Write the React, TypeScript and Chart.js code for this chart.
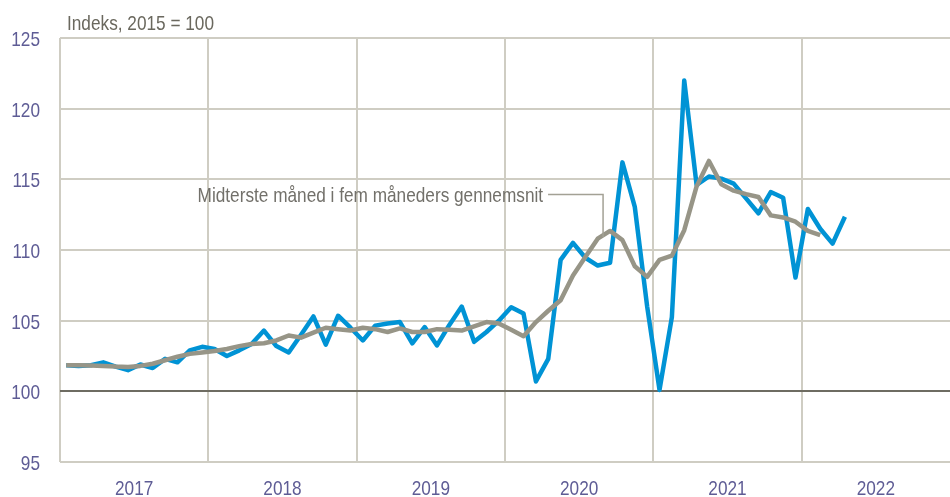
import React, { useEffect, useRef } from "react";
import { Chart, registerables } from "chart.js";

Chart.register(...registerables);

const years = ["2017", "2018", "2019", "2020", "2021", "2022"];
const yTicks = [95, 100, 105, 110, 115, 120, 125];

// Monthly index values, Jan 2017 onwards
const monthlyIndex = [
  101.85, 101.8, 101.85, 102.05, 101.75, 101.5, 101.9, 101.65, 102.3, 102.05, 102.9, 103.15,
  103.0, 102.5, 102.9, 103.35, 104.3, 103.2, 102.75, 104.0, 105.3, 103.3, 105.35, 104.5,
  103.6, 104.65, 104.8, 104.9, 103.4, 104.55, 103.25, 104.7, 106.0, 103.5, 104.2, 105.0,
  105.95, 105.5, 100.7, 102.3, 109.3, 110.5, 109.45, 108.9, 109.1, 116.2, 113.05, 106.0,
  100.1, 105.25, 122.0, 114.6, 115.2, 115.05, 114.7, 113.65, 112.6, 114.1, 113.7, 108.05,
  112.9, 111.5, 110.45, 112.35,
];

// Middle month of five-month average
const fiveMonthAvg = [
  101.85, 101.85, 101.82, 101.8, 101.75, 101.72, 101.8, 101.95, 102.2, 102.45, 102.65, 102.75,
  102.85, 103.0, 103.2, 103.35, 103.4, 103.6, 103.95, 103.8, 104.15, 104.5, 104.4, 104.3,
  104.5, 104.4, 104.2, 104.45, 104.2, 104.2, 104.4, 104.35, 104.3, 104.6, 104.9, 104.8,
  104.35, 103.9, 104.9, 105.7, 106.45, 108.2, 109.5, 110.8, 111.35, 110.7, 108.85, 108.1,
  109.3, 109.6, 111.4, 114.5, 116.3, 114.65, 114.2, 113.95, 113.75, 112.45, 112.3, 112.0,
  111.35, 111.05,
];

const titleText = "Indeks, 2015 = 100";
const annotationText = "Midterste måned i fem måneders gennemsnit";
const annotationIndex = 44;

const FONT = "'Liberation Sans', Arial, sans-serif";
const NARROW = 0.82;
const FONT_SIZE = 21;
const TICK_COLOR = "#5e5c95";
const GRID = "#cfcdc3";
const ZERO = "#6e6c62";
const BLUE = "#0093d5";
const GREY = "#979587";

function narrowText(
  ctx: CanvasRenderingContext2D,
  text: string,
  x: number,
  y: number,
  align: CanvasTextAlign,
  color: string
) {
  ctx.save();
  ctx.font = `${FONT_SIZE}px ${FONT}`;
  ctx.fillStyle = color;
  ctx.textAlign = align;
  ctx.textBaseline = "alphabetic";
  ctx.translate(x, y);
  ctx.scale(NARROW, 1);
  ctx.fillText(text, 0, 0);
  ctx.restore();
}

export default function App() {
  const ref = useRef<HTMLCanvasElement | null>(null);

  useEffect(() => {
    if (!ref.current) return;
    const toPts = (arr: number[]) => arr.map((v, i) => ({ x: i + 0.5, y: v }));

    const overlay = {
      id: "overlay",
      afterDraw(chart: any) {
        const ctx = chart.ctx as CanvasRenderingContext2D;
        const area = chart.chartArea;
        const xs = chart.scales.x;
        const ys = chart.scales.y;

        // axis labels
        yTicks.forEach((v) => {
          narrowText(ctx, String(v), area.left - 20, ys.getPixelForValue(v) + 8, "right", TICK_COLOR);
        });
        years.forEach((yr, i) => {
          narrowText(ctx, yr, xs.getPixelForValue(i * 12 + 6), 495, "center", TICK_COLOR);
        });

        // title
        narrowText(ctx, titleText, area.left + 7, 29.5, "left", "#6a685e");

        // annotation with leader line
        const meta = chart.getDatasetMeta(0);
        const pt = meta.data[annotationIndex];
        const vx = pt.x - 7;
        const vy = pt.y + 6;
        const hy = 194.5;
        ctx.save();
        ctx.strokeStyle = "#a3a195";
        ctx.lineWidth = 1.5;
        ctx.beginPath();
        ctx.moveTo(vx - 55, hy);
        ctx.lineTo(vx, hy);
        ctx.lineTo(vx, vy);
        ctx.stroke();
        ctx.restore();
        narrowText(ctx, annotationText, vx - 60, 201.5, "right", "#72706a");
      },
    };

    const chart = new Chart(ref.current, {
      type: "line",
      data: {
        datasets: [
          {
            label: "Gennemsnit",
            data: toPts(fiveMonthAvg),
            borderColor: GREY,
            borderWidth: 4.5,
            pointRadius: 0,
            tension: 0,
            borderJoinStyle: "round",
            order: 0,
          },
          {
            label: "Indeks",
            data: toPts(monthlyIndex),
            borderColor: BLUE,
            borderWidth: 4.5,
            pointRadius: 0,
            tension: 0,
            borderJoinStyle: "round",
            order: 1,
          },
        ],
      },
      options: {
        animation: false,
        responsive: false,
        maintainAspectRatio: false,
        layout: { padding: { top: 38, left: 0, right: 0, bottom: 0 } },
        plugins: { legend: { display: false }, tooltip: { enabled: false } },
        scales: {
          x: {
            type: "linear",
            min: 0,
            max: years.length * 12,
            border: { display: false },
            afterBuildTicks: (scale: any) => {
              const t = [];
              for (let v = 0; v <= years.length * 12; v += 12) t.push({ value: v });
              scale.ticks = t;
            },
            afterFit: (scale: any) => {
              scale.height = 35;
            },
            grid: {
              drawTicks: false,
              lineWidth: 2,
              color: (c: any) => {
                const v = c.tick ? c.tick.value : 0;
                return v < years.length * 12 ? GRID : "rgba(0,0,0,0)";
              },
            },
            ticks: { display: false },
          },
          y: {
            min: yTicks[0],
            max: yTicks[yTicks.length - 1],
            border: { display: false },
            afterBuildTicks: (scale: any) => {
              scale.ticks = yTicks.map((v) => ({ value: v }));
            },
            afterFit: (scale: any) => {
              scale.width = 60;
            },
            grid: {
              drawTicks: false,
              lineWidth: 2,
              color: (c: any) => (c.tick && c.tick.value === 100 ? ZERO : GRID),
            },
            ticks: { display: false },
          },
        },
      },
      plugins: [overlay],
    });
    return () => chart.destroy();
  }, []);

  return (
    <div style={{ position: "fixed", left: 0, top: 0, width: 950, height: 497, background: "#fff" }}>
      <canvas ref={ref} width={950} height={497} style={{ width: 950, height: 497, display: "block" }} />
    </div>
  );
}
